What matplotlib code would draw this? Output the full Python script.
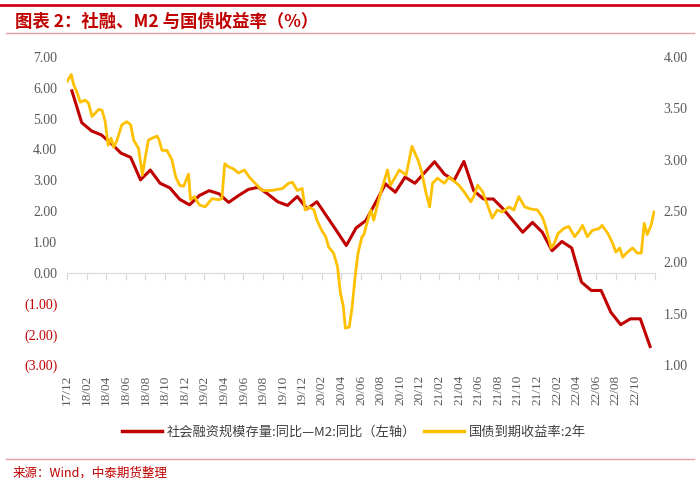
import matplotlib.pyplot as plt
from matplotlib.lines import Line2D
from matplotlib.ticker import FuncFormatter

# 数据：月份序号（0 = 2017年12月）
tick_labels = ['17/12', '18/02', '18/04', '18/06', '18/08', '18/10', '18/12',
               '19/02', '19/04', '19/06', '19/08', '19/10', '19/12',
               '20/02', '20/04', '20/06', '20/08', '20/10', '20/12',
               '21/02', '21/04', '21/06', '21/08', '21/10', '21/12',
               '22/02', '22/04', '22/06', '22/08', '22/10']

# 社会融资规模存量:同比 - M2:同比（月度，左轴）
spread_month = list(range(60))
spread = [5.90, 4.87, 4.60, 4.47, 4.20, 3.88, 3.74, 3.01, 3.33, 2.90,
          2.75, 2.38, 2.20, 2.50, 2.66, 2.56, 2.28, 2.50, 2.70, 2.77,
          2.55, 2.30, 2.18, 2.47, 2.07, 2.30, 1.83, 1.36, 0.88, 1.45,
          1.69, 2.28, 2.88, 2.61, 3.10, 2.90, 3.25, 3.60, 3.20, 2.99,
          3.61, 2.66, 2.39, 2.39, 2.07, 1.69, 1.31, 1.63, 1.31, 0.71,
          1.01, 0.80, -0.31, -0.58, -0.58, -1.29, -1.69, -1.50, -1.50, -2.40]

# 国债到期收益率:2年（右轴）
yield_t = [0.0, 0.44, 0.68, 1.0, 1.36, 1.87, 2.2, 2.55, 3.24, 3.58,
           3.9, 4.2, 4.5, 4.77, 5.1, 5.6, 6.1, 6.5, 6.8, 7.3,
           7.7, 8.0, 8.3, 8.7, 9.2, 9.4, 9.7, 10.2, 10.7, 11.1,
           11.5, 11.9, 12.4, 12.6, 13.0, 13.5, 14.1, 14.8, 15.5, 15.8,
           16.1, 16.5, 17.0, 17.5, 18.1, 18.6, 19.1, 19.9, 20.9, 22.0,
           22.6, 23.0, 23.5, 24.0, 24.3, 24.7, 25.2, 25.5, 26.0, 26.4,
           26.7, 27.2, 27.6, 27.9, 28.2, 28.4, 28.8, 29.1, 29.4, 29.7,
           30.1, 30.3, 30.6, 31.0, 31.3, 31.7, 32.2, 32.7, 33.0, 33.5,
           33.9, 34.6, 35.2, 35.8, 36.2, 36.6, 37.0, 37.3, 37.8, 38.5,
           39.0, 39.5, 40.0, 40.5, 41.2, 41.5, 41.9, 42.4, 42.9, 43.4,
           43.9, 44.4, 45.1, 45.6, 46.1, 46.7, 47.3, 48.0, 48.5, 48.8,
           49.4, 49.7, 50.1, 50.7, 51.2, 51.8, 52.3, 52.6, 53.1, 53.6,
           54.3, 54.6, 55.2, 55.7, 56.0, 56.4, 56.7, 57.2, 57.7, 58.2,
           58.6, 58.9, 59.2, 59.6, 59.9]
yield_2y = [3.76, 3.83, 3.73, 3.66, 3.56, 3.58, 3.55, 3.42, 3.49, 3.48,
            3.37, 3.14, 3.21, 3.12, 3.19, 3.34, 3.37, 3.34, 3.19, 3.11,
            2.85, 3.03, 3.19, 3.21, 3.23, 3.19, 3.09, 3.09, 3.00, 2.83,
            2.75, 2.74, 2.86, 2.61, 2.64, 2.56, 2.54, 2.62, 2.61, 2.62,
            2.96, 2.93, 2.91, 2.87, 2.90, 2.83, 2.78, 2.70, 2.70, 2.72,
            2.77, 2.78, 2.70, 2.72, 2.51, 2.54, 2.51, 2.41, 2.31, 2.25,
            2.15, 2.09, 1.96, 1.70, 1.57, 1.36, 1.37, 1.57, 1.86, 2.09,
            2.25, 2.27, 2.38, 2.51, 2.41, 2.57, 2.74, 2.90, 2.75, 2.83,
            2.90, 2.85, 3.13, 3.00, 2.88, 2.69, 2.54, 2.77, 2.82, 2.77,
            2.83, 2.79, 2.75, 2.69, 2.59, 2.64, 2.75, 2.69, 2.56, 2.43,
            2.51, 2.49, 2.54, 2.51, 2.64, 2.54, 2.52, 2.51, 2.44, 2.36,
            2.14, 2.18, 2.28, 2.33, 2.35, 2.25, 2.31, 2.36, 2.25, 2.31,
            2.33, 2.36, 2.28, 2.18, 2.10, 2.14, 2.05, 2.10, 2.14, 2.09,
            2.09, 2.38, 2.27, 2.36, 2.49]

RED = '#C00000'
GOLD = '#FFC000'
GREY = '#595959'

plt.rcParams['font.family'] = ['Liberation Serif', 'Noto Sans CJK SC']
cjk = ['Noto Sans CJK SC', 'DejaVu Sans']

fig = plt.figure(figsize=(7, 4.8), dpi=100)
ax = fig.add_axes([67 / 700, 1 - 365 / 480, 588 / 700, 308 / 480])

ax.plot([m + 0.5 for m in spread_month], spread, color=RED, lw=2.2, zorder=3)
ax.set_xlim(0, 60)
ax.set_ylim(-3, 7)
ax.set_yticks(range(-3, 8))
ax.yaxis.set_major_formatter(FuncFormatter(
    lambda v, p: f'({abs(v):.2f})' if v < 0 else f'{v:.2f}'))
ax.tick_params(axis='y', length=0, pad=7, labelsize=10, labelcolor=GREY)
for lab in ax.get_yticklabels():
    if lab.get_text().startswith('('):
        lab.set_color(RED)

# 零轴：刻度画在 0 线上，标签放到底部
for s in ['left', 'right', 'top']:
    ax.spines[s].set_visible(False)
ax.spines['bottom'].set_position(('data', 0))
ax.spines['bottom'].set_color('#D9D9D9')
ax.set_xticks(range(0, 61, 2))
ax.tick_params(axis='x', direction='out', length=5, color='#D9D9D9',
               labelbottom=False)
sec = ax.secondary_xaxis('bottom')
sec.set_xticks(range(0, 60, 2), tick_labels, rotation=90)
sec.tick_params(length=0, pad=7, labelsize=9.5, labelcolor=GREY)
sec.spines['bottom'].set_visible(False)

ax2 = ax.twinx()
ax2.plot(yield_t, yield_2y, color=GOLD, lw=2.0, zorder=3)
ax2.set_ylim(1, 4)
ax2.set_yticks([1 + 0.5 * i for i in range(7)])
ax2.yaxis.set_major_formatter(FuncFormatter(lambda v, p: f'{v:.2f}'))
ax2.tick_params(axis='y', length=0, pad=6, labelsize=10, labelcolor=GREY)
for s in ax2.spines.values():
    s.set_visible(False)

# 图例
handles = [Line2D([], [], color=RED, lw=2.5), Line2D([], [], color=GOLD, lw=2.5)]
labels = ['社会融资规模存量:同比—M2:同比（左轴）', '国债到期收益率:2年']
fig.legend(handles, labels, loc='center', bbox_to_anchor=(0.506, 1 - 432 / 480),
           ncol=2, frameon=False, handlelength=3.0, columnspacing=0.6,
           handletextpad=0.4, prop={'family': cjk, 'size': 9.5},
           labelcolor='#404040')

# 标题与来源
fig.add_artist(Line2D([0, 1], [1 - 5 / 480] * 2, transform=fig.transFigure,
                      color='#D0021B', lw=2))
fig.add_artist(Line2D([0.008, 0.992], [1 - 33 / 480] * 2,
                      transform=fig.transFigure, color='#E8A0A0', lw=1))
fig.text(15 / 700, 1 - 22 / 480, '图表 2：社融、M2 与国债收益率（%）',
         family=cjk, fontsize=12.5, fontweight='bold', color=RED,
         va='center', ha='left')
fig.add_artist(Line2D([0.008, 0.992], [1 - 459 / 480] * 2,
                      transform=fig.transFigure, color='#E8A0A0', lw=1))
fig.text(13 / 700, 1 - 473 / 480, '来源：Wind，中泰期货整理',
         family=cjk, fontsize=9, color=RED, va='center', ha='left')

fig.savefig('out.png', dpi=100)
